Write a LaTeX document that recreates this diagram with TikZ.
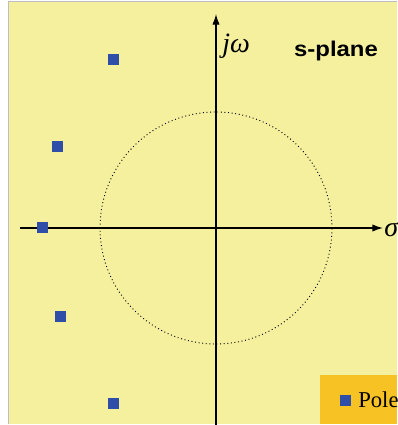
\documentclass[tikz,border=0pt]{standalone}
\usepackage{fontspec}
\setsansfont{Liberation Sans}
\setmainfont{Liberation Serif}
\usetikzlibrary{arrows.meta}
\definecolor{bgyellow}{RGB}{244,240,158}
\definecolor{legorange}{RGB}{246,194,36}
\definecolor{poleblue}{RGB}{46,78,168}
\definecolor{framegray}{RGB}{190,190,190}
\tikzset{
  pole/.style={fill=poleblue, draw=none, minimum size=8.25pt, inner sep=0pt, rectangle},
  axis/.style={line width=1pt, -{Latex[length=8pt,width=5.5pt]}},
  axlabel/.style={inner sep=0pt, font=\itshape\fontsize{21}{21}\selectfont},
}
\begin{document}
\begin{tikzpicture}[x=0.75pt,y=-0.75pt]
\useasboundingbox (0,0) rectangle (397,425);
\clip (0,0) rectangle (397,425);
\fill[white] (0,0) rectangle (397,425);
\fill[bgyellow] (9,2) rectangle (397,424);
\draw[framegray, line width=1.2pt] (8.5,424) -- (8.5,1.5) -- (397,1.5);
% circle
\coordinate (O) at (216,228);
\draw[dotted, line width=0.7pt] (O) circle[radius=116*0.75pt];
% axes
\coordinate (xl) at (20,228);
\coordinate (xr) at (383,228);
\coordinate (yb) at (216,425);
\coordinate (yt) at (216,14);
\draw[axis] (xl) -- (xr);
\draw[axis] (yb) -- (yt);
\node[axlabel, anchor=base west] (sigma) at (384,236) {σ};
\node[axlabel, anchor=base west] (jw) at (222,52) {jω};
\node[inner sep=0pt, xscale=1.12, font=\sffamily\bfseries\fontsize{16}{16}\selectfont] (splane) at (336,51) {s-plane};
% poles
\node[pole] (p1) at (113,59) {};
\node[pole] (p2) at (57,146) {};
\node[pole] (p3) at (42.5,227.5) {};
\node[pole] (p4) at (60,316) {};
\node[pole] (p5) at (113,403) {};
% legend
\fill[legorange] (320,375) rectangle (397,424);
\node[pole] (lp) at (345.5,400.5) {};
\node[anchor=base west, inner sep=0pt, font=\fontsize{17}{17}\selectfont] (lt) at (358,407) {Pole};
\end{tikzpicture}
\end{document}
